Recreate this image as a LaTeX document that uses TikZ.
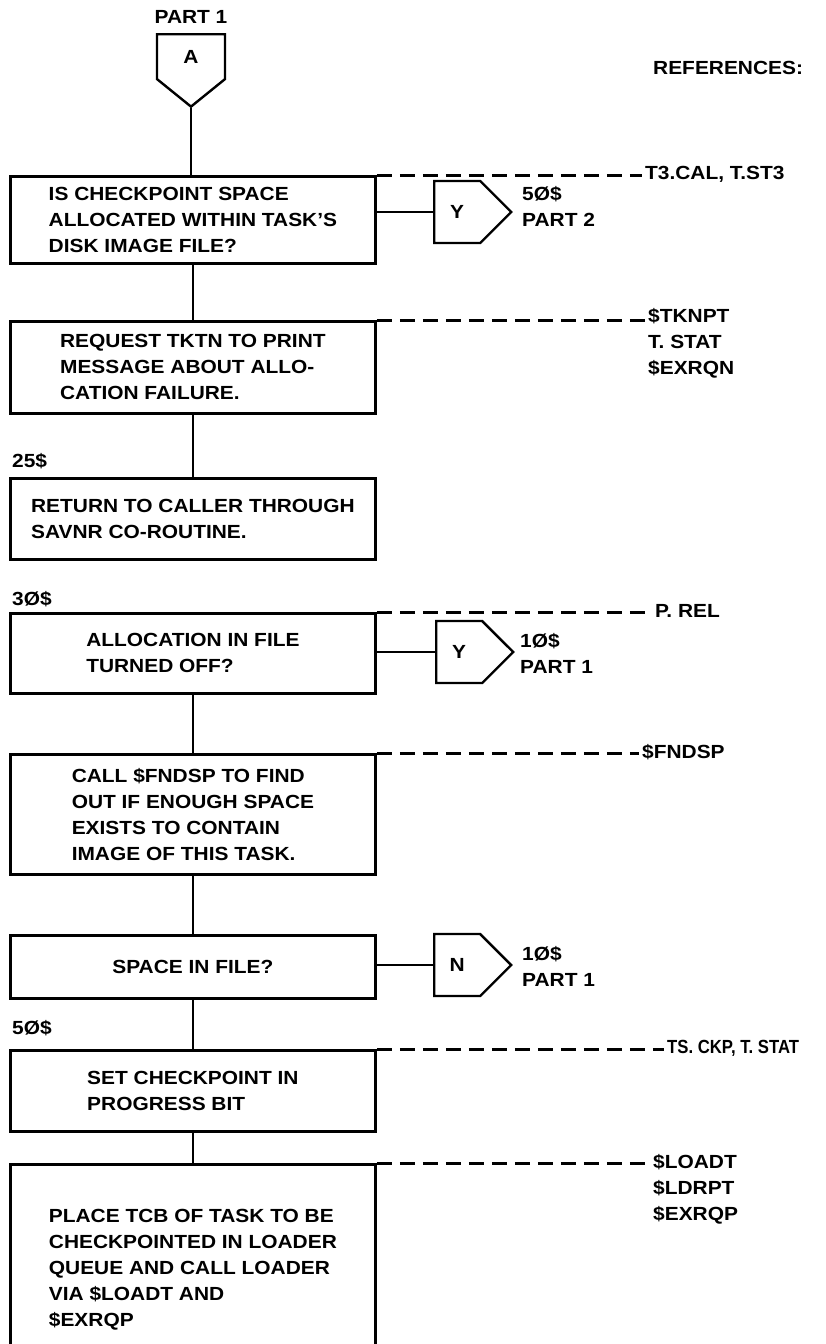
\documentclass[tikz,border=0pt]{standalone}
\usepackage{graphicx}
\usepackage{fontspec}
\setmainfont{Liberation Sans}[FakeStretch=1.1]
\usetikzlibrary{shapes.symbols}
\begin{document}
\begin{tikzpicture}[x=1pt,y=-1pt,
  every node/.style={font=\bfseries\fontsize{19}{26}\selectfont},
  box/.style={draw,line width=2.8pt,minimum width=365pt,align=left,inner sep=0pt,anchor=north west},
  offpage/.style={draw,line width=2.4pt,shape=signal,signal to=east,signal pointer angle=90,minimum width=77pt,minimum height=62pt,inner sep=0pt,anchor=west},
  flow/.style={line width=2.2pt},
  refline/.style={line width=3pt,dash pattern=on 15pt off 8pt},
  reftext/.style={anchor=west,inner xsep=3pt,inner ysep=0pt,align=left},
  tag/.style={anchor=west,inner sep=0pt,align=left}
]
\clip (0,0) rectangle (826,1344);
\fill[white] (0,0) rectangle (826,1344);

% entry connector
\node[inner sep=0pt] (p1) at (191,17) {PART 1};
\node[draw,line width=2.4pt,shape=signal,signal to=south,signal pointer angle=102,minimum width=68pt,minimum height=51pt,inner sep=0pt,anchor=north] (A) at (191,33) {A};
\node[tag] (refs) at (653,68) {REFERENCES:};

% box 1
\node[box,minimum height=87pt] (b1) at (9,175) {IS CHECKPOINT SPACE\\ALLOCATED WITHIN TASK’S\\DISK IMAGE FILE?};
\node[reftext] (r1) at (642,174) {T3.CAL, T.ST3};
\draw[refline] (b1.north east) -- (r1.west |- b1.north east);
\node[offpage] (Y1) at (433,212) {Y};
\node[tag] (t1) at (522,206) {5Ø\$\\PART 2};
\draw[flow] (Y1.west) -- (Y1.west -| b1.east);
\draw[flow] (A.south) -- (A.south |- b1.north);

% box 2
\node[box,minimum height=92pt] (b2) at (9,320) {REQUEST TKTN TO PRINT\\MESSAGE ABOUT ALLO-\\CATION FAILURE.};
\node[reftext] (r2) at (645,343) {\$TKNPT\\T. STAT\\\$EXRQN};
\draw[refline] (b2.north east) -- (r2.west |- b2.north east);
\draw[flow] (b1.south) -- (b2.north);

% box 3
\node[tag] (l25) at (12,461) {25\$};
\node[box,minimum height=81pt] (b3) at (9,477) {RETURN TO CALLER THROUGH\\SAVNR CO-ROUTINE.};
\draw[flow] (b2.south) -- (b3.north);

% box 4
\node[tag] (l30) at (12,599) {3Ø\$};
\node[box,minimum height=80pt] (b4) at (9,612) {ALLOCATION IN FILE\\TURNED OFF?};
\node[reftext] (r4) at (652,611) {P. REL};
\draw[refline] (b4.north east) -- (r4.west |- b4.north east);
\node[offpage] (Y2) at (435,652) {Y};
\node[tag] (t2) at (520,653) {1Ø\$\\PART 1};
\draw[flow] (Y2.west) -- (Y2.west -| b4.east);

% box 5
\node[box,minimum height=120pt] (b5) at (9,753) {CALL \$FNDSP TO FIND\\OUT IF ENOUGH SPACE\\EXISTS TO CONTAIN\\IMAGE OF THIS TASK.};
\node[reftext] (r5) at (639,752) {\$FNDSP};
\draw[refline] (b5.north east) -- (r5.west |- b5.north east);
\draw[flow] (b4.south) -- (b5.north);

% box 6
\node[box,minimum height=63pt,align=center] (b6) at (9,934) {SPACE IN FILE?};
\node[offpage] (N1) at (433,965) {N};
\node[tag] (t3) at (522,966) {1Ø\$\\PART 1};
\draw[flow] (N1.west) -- (N1.west -| b6.east);
\draw[flow] (b5.south) -- (b6.north);

% box 7
\node[tag] (l50) at (12,1028) {5Ø\$};
\node[box,minimum height=81pt] (b7) at (9,1049) {SET CHECKPOINT IN\\PROGRESS BIT};
\node[reftext] (r7) at (664,1048) {\scalebox{0.8}[1]{TS. CKP, T. STAT}};
\draw[refline] (b7.north east) -- (r7.west |- b7.north east);
\draw[flow] (b6.south) -- (b7.north);

% box 8
\node[box,minimum height=211pt] (b8) at (9,1163) {PLACE TCB OF TASK TO BE\\CHECKPOINTED IN LOADER\\QUEUE AND CALL LOADER\\VIA \$LOADT AND\\\$EXRQP};
\node[reftext] (r8) at (650,1189) {\$LOADT\\\$LDRPT\\\$EXRQP};
\draw[refline] (b8.north east) -- (r8.west |- b8.north east);
\draw[flow] (b7.south) -- (b8.north);
\end{tikzpicture}
\end{document}
